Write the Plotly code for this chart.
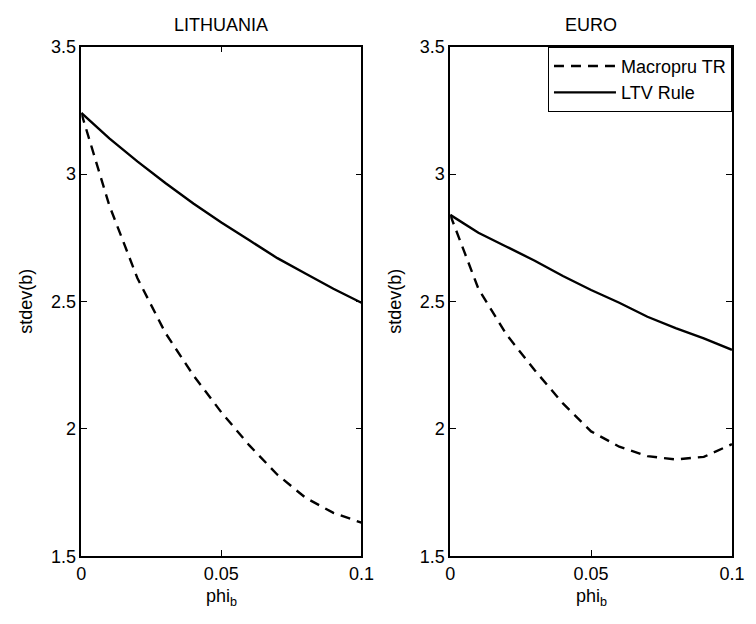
import plotly.graph_objects as go

phi = [0.0, 0.01, 0.02, 0.03, 0.04, 0.05, 0.06, 0.07, 0.08, 0.09, 0.10]

lt_macropru = [3.24, 2.877, 2.592, 2.377, 2.21, 2.065, 1.935, 1.82, 1.73, 1.67, 1.632]
lt_ltv = [3.24, 3.14, 3.05, 2.965, 2.885, 2.81, 2.74, 2.67, 2.61, 2.55, 2.495]

eu_macropru = [2.84, 2.55, 2.37, 2.23, 2.10, 1.99, 1.93, 1.893, 1.88, 1.89, 1.94]
eu_ltv = [2.84, 2.77, 2.715, 2.66, 2.60, 2.545, 2.495, 2.44, 2.395, 2.355, 2.31]

titles = ["LITHUANIA", "EURO"]
x_ticks = [0, 0.05, 0.1]
x_ticklabels = ["0", "0.05", "0.1"]
y_ticks = [1.5, 2, 2.5, 3, 3.5]
y_ticklabels = ["1.5", "2", "2.5", "3", "3.5"]

FONT = "Liberation Sans, Arial, Helvetica, sans-serif"
FS = 18
DASH = "10px,7px"
LW = 2.4

# page body has an 8px default margin; shrink figure and offset positions
OFF = 8
W, H = 756 - OFF, 624 - OFF


def px(p):
    return (p - OFF) / W


def py(p):
    return 1 - (p - OFF) / H


fig = go.Figure()
fig.add_trace(go.Scatter(x=phi, y=lt_macropru, mode="lines", name="Macropru TR",
                         line=dict(color="black", width=LW, dash=DASH),
                         xaxis="x", yaxis="y", showlegend=False))
fig.add_trace(go.Scatter(x=phi, y=lt_ltv, mode="lines", name="LTV Rule",
                         line=dict(color="black", width=LW),
                         xaxis="x", yaxis="y", showlegend=False))
fig.add_trace(go.Scatter(x=phi, y=eu_macropru, mode="lines", name="Macropru TR",
                         line=dict(color="black", width=LW, dash=DASH),
                         xaxis="x2", yaxis="y2", showlegend=True))
fig.add_trace(go.Scatter(x=phi, y=eu_ltv, mode="lines", name="LTV Rule",
                         line=dict(color="black", width=LW),
                         xaxis="x2", yaxis="y2", showlegend=True))

left_dom = [px(78), px(365)]
right_dom = [px(456), px(744.7)]
y_dom = [py(564.3), py(37.7)]

xax = dict(range=[0, 0.1], tickvals=x_ticks, ticktext=x_ticklabels,
           showline=True, linecolor="black", linewidth=1.5, mirror="ticks",
           ticks="inside", ticklen=6, tickcolor="black", tickwidth=1,
           showgrid=False, zeroline=False,
           tickfont=dict(family=FONT, size=FS, color="black"))
yax = dict(range=[1.5, 3.5], tickvals=y_ticks, ticktext=y_ticklabels,
           showline=True, linecolor="black", linewidth=1.5, mirror="ticks",
           ticks="inside", ticklen=6, tickcolor="black", tickwidth=1,
           showgrid=False, zeroline=False,
           tickfont=dict(family=FONT, size=FS, color="black"))

fig.update_layout(
    width=W, height=H, autosize=False,
    margin=dict(l=0, r=0, t=0, b=0),
    paper_bgcolor="white", plot_bgcolor="white",
    font=dict(family=FONT, size=FS, color="black"),
    xaxis=dict(domain=left_dom, anchor="y", **xax),
    yaxis=dict(domain=y_dom, anchor="x", **yax),
    xaxis2=dict(domain=right_dom, anchor="y2", **xax),
    yaxis2=dict(domain=y_dom, anchor="x2", **yax),
    legend=dict(x=px(744.7), xanchor="right", y=py(37.7), yanchor="top",
                bgcolor="white", bordercolor="black", borderwidth=1,
                font=dict(family=FONT, size=FS, color="black"),
                itemwidth=62, tracegroupgap=0),
)

ann = []
centers = [(left_dom[0] + left_dom[1]) / 2, (right_dom[0] + right_dom[1]) / 2]
for i, t in enumerate(titles):
    ann.append(dict(text=t, x=centers[i], y=py(15), xref="paper", yref="paper",
                    showarrow=False, xanchor="center", yanchor="middle",
                    font=dict(family=FONT, size=FS, color="black")))
    ann.append(dict(text="phi<sub>b</sub>", x=centers[i], y=py(607),
                    xref="paper", yref="paper", showarrow=False,
                    xanchor="center", yanchor="middle",
                    font=dict(family=FONT, size=FS, color="black")))
for xp in [21.7, 399.7]:
    ann.append(dict(text="stdev(b)", x=px(xp), y=(y_dom[0] + y_dom[1]) / 2,
                    xref="paper", yref="paper", showarrow=False, textangle=-90,
                    xanchor="center", yanchor="middle",
                    font=dict(family=FONT, size=FS, color="black")))
fig.update_layout(annotations=ann)

fig.write_html("out.html", config={"displayModeBar": False})
